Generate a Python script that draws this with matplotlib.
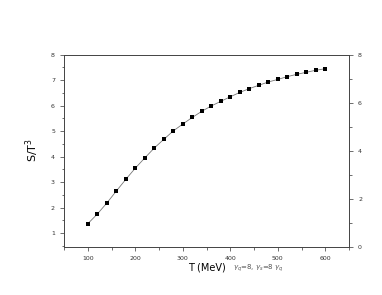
import matplotlib
matplotlib.use('Agg')
import matplotlib.pyplot as plt
from matplotlib.ticker import MultipleLocator

T = [100, 120, 140, 160, 180, 200, 220, 240, 260, 280, 300, 320, 340,
     360, 380, 400, 420, 440, 460, 480, 500, 520, 540, 560, 580, 600]
s_t3 = [1.37, 1.75, 2.18, 2.65, 3.11, 3.55, 3.95, 4.34, 4.68, 5.01, 5.28,
        5.54, 5.78, 5.99, 6.17, 6.35, 6.52, 6.67, 6.80, 6.93, 7.03, 7.14,
        7.23, 7.31, 7.39, 7.45]

fig = plt.figure(figsize=(3.82, 2.95), dpi=100)
ax = fig.add_axes([64/382, 1 - 247/295, (349-64)/382, (247-54.7)/295])

ax.plot(T, s_t3, '-', color='#777777', lw=0.6)
ax.plot(T, s_t3, 's', color='black', ms=3.5, mew=0)

ax.set_xlim(50, 650)
ax.set_ylim(0.46, 8)
ax.xaxis.set_major_locator(MultipleLocator(100))
ax.xaxis.set_minor_locator(MultipleLocator(50))
ax.yaxis.set_major_locator(MultipleLocator(1))
ax.yaxis.set_minor_locator(MultipleLocator(0.5))
ax.tick_params(which='both', direction='out', labelsize=4.5, colors='#333333',
               width=0.5, top=False, right=False)
ax.tick_params(which='major', length=3)
ax.tick_params(which='minor', length=1.8)
for s in ax.spines.values():
    s.set_linewidth(0.6)
    s.set_color('#444444')

ax2 = ax.twinx()
ax2.set_ylim(0, 8)
ax2.yaxis.set_major_locator(MultipleLocator(2))
ax2.yaxis.set_minor_locator(MultipleLocator(1))
ax2.tick_params(which='both', direction='out', labelsize=4.5, colors='#333333',
                width=0.5)
ax2.tick_params(which='major', length=3)
ax2.tick_params(which='minor', length=1.8)
for s in ax2.spines.values():
    s.set_linewidth(0.6)
    s.set_color('#444444')

fig.text(32/382, 1 - 150/295, r'S/T$^3$', rotation=90, fontsize=8,
         ha='center', va='center')
fig.text(207/382, 1 - 267/295, 'T (MeV)', fontsize=7, ha='center', va='center')
fig.text(258/382, 1 - 268/295, r'$\gamma_q$=8, $\gamma_s$=8 $\gamma_q$',
         fontsize=5, ha='center', va='center', color='#555555')

fig.savefig('out.png', dpi=100)
